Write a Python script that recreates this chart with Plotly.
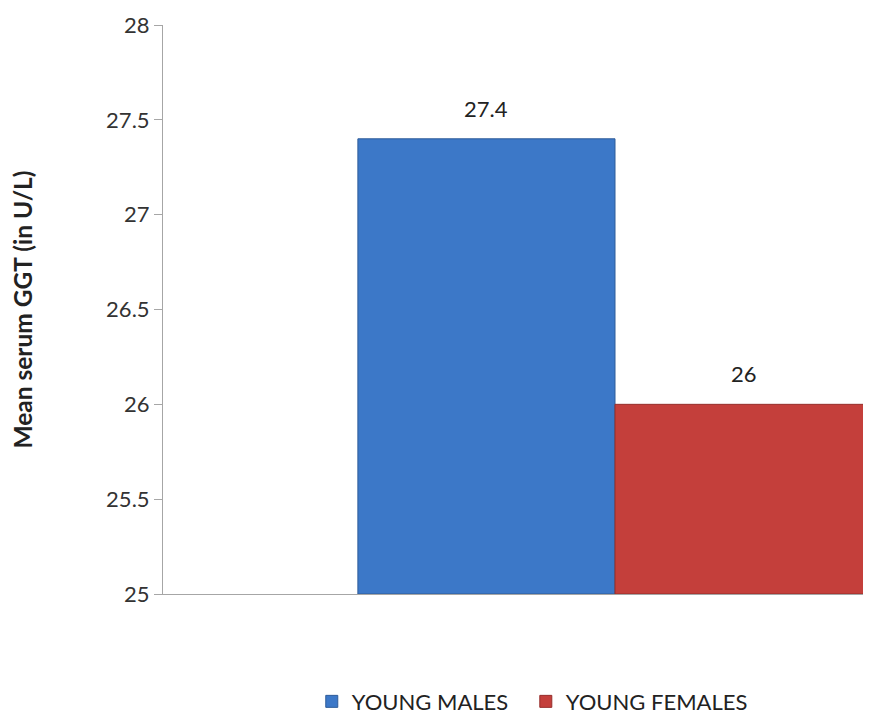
import plotly.graph_objects as go

categories = [""]
series_names = ["YOUNG MALES", "YOUNG FEMALES"]
males = [27.4]
females = [26.0]
y_ticks = [25, 25.5, 26, 26.5, 27, 27.5, 28]
y_tick_labels = ["25", "25.5", "26", "26.5", "27", "27.5", "28"]

FONT = "Lato, 'Open Sans', sans-serif"
blue = "#3C78C8"
red = "#C43F3B"

fig = go.Figure()
fig.add_trace(go.Bar(x=categories, y=[v - 25 for v in males], base=25, name=series_names[0],
                     legend="legend",
                     marker=dict(color=blue, line=dict(color="#2E5C99", width=1))))
fig.add_trace(go.Bar(x=categories, y=[v - 25 for v in females], base=25, name=series_names[1],
                     legend="legend2",
                     marker=dict(color=red, line=dict(color="#962E2B", width=1))))

bargap = 0.4
half = (1 - bargap) / 4
for xo, v in zip([-half, half], [males[0], females[0]]):
    fig.add_annotation(x=xo, y=v, text=f"{v:g}", showarrow=False, yanchor="bottom",
                       yshift=15, font=dict(family=FONT, size=22, color="#222"))

legend_common = dict(orientation="h", xref="container", yref="container", y=0.019,
                     xanchor="left", yanchor="middle", font=dict(size=22, color="#222"),
                     itemwidth=30, bgcolor="rgba(0,0,0,0)")

fig.update_layout(
    width=863, height=707,
    margin=dict(l=155, r=0, t=17, b=121),
    plot_bgcolor="white", paper_bgcolor="white",
    barmode="group", bargap=bargap, bargroupgap=0,
    font=dict(family=FONT, size=22, color="#333"),
    showlegend=True,
    legend=dict(x=0.352, **legend_common),
    legend2=dict(x=0.600, **legend_common),
    xaxis=dict(range=[-0.5274, 0.2987], showticklabels=False, showline=True,
               linecolor="#A6A6A6", linewidth=1, ticks="", showgrid=False, zeroline=False),
    yaxis=dict(range=[25, 28], tickvals=y_ticks, ticktext=y_tick_labels, showline=True,
               linecolor="#A6A6A6", linewidth=1, ticks="outside", ticklen=8, tickcolor="#A6A6A6",
               showgrid=False, zeroline=False, tickfont=dict(size=22, color="#333"),
               title=dict(text="<b>Mean serum GGT (in U/L)</b>", font=dict(size=24.5, color="#222"),
                          standoff=67)),
)

fig.write_html("out.html")
